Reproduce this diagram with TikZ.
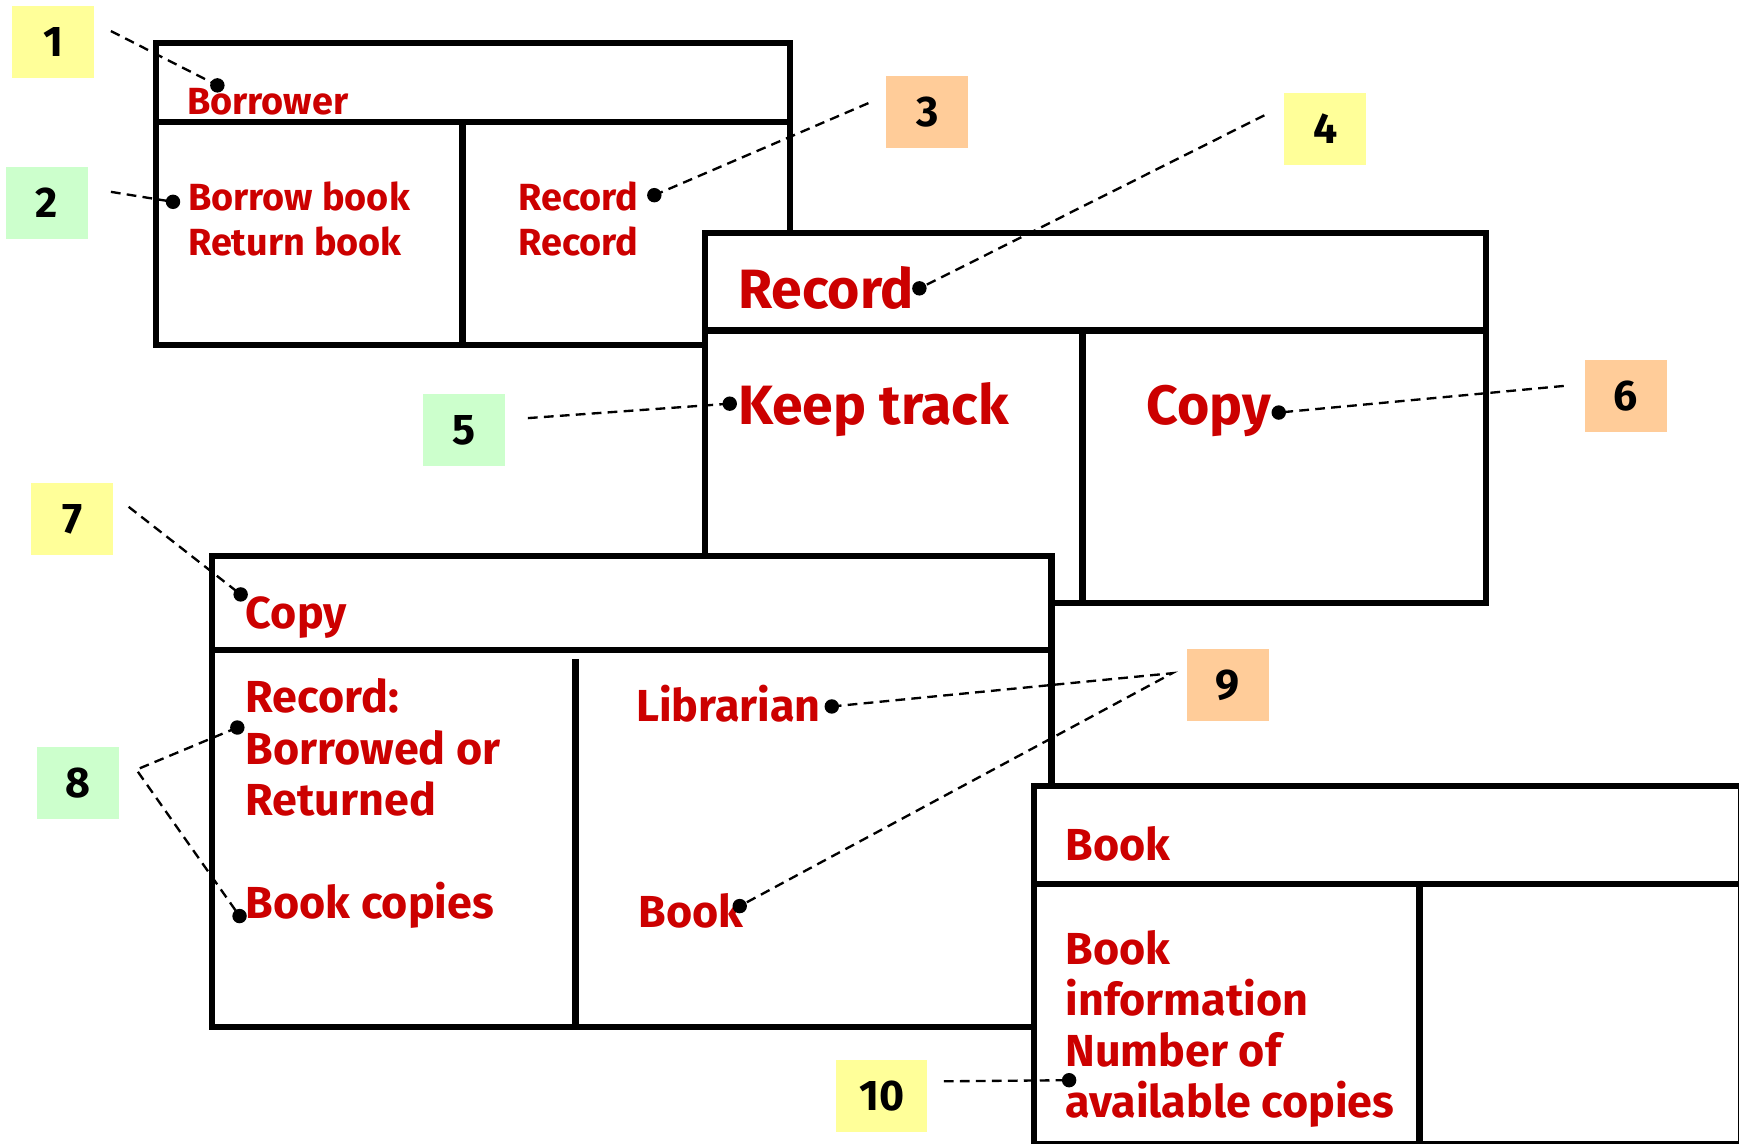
\documentclass[tikz,border=0pt]{standalone}
\usepackage{fontspec}
\setmainfont{Fira Sans}
\definecolor{redtxt}{RGB}{204,0,0}
\definecolor{notey}{RGB}{255,255,153}
\definecolor{noteg}{RGB}{204,255,204}
\definecolor{noteo}{RGB}{255,204,153}
\begin{document}
\begin{tikzpicture}[x=0.01cm,y=-0.01cm,
	card/.style={draw=black,line width=1.6pt,fill=white},
	rule/.style={line width=1.6pt},
	stxt/.style={anchor=base west,inner sep=0pt,text=redtxt,font=\bfseries\fontsize{9.7}{12}\selectfont},
	mtxt/.style={stxt,font=\bfseries\fontsize{11.5}{14}\selectfont},
	btxt/.style={stxt,font=\bfseries\fontsize{14.2}{17}\selectfont},
	dot/.style={circle,fill=black,inner sep=0pt,minimum size=0.13cm},
	note/.style={minimum width=0.74cm,minimum height=0.65cm,inner sep=0pt,font=\bfseries\fontsize{11}{13}\selectfont},
	leader/.style={dash pattern=on 2.5pt off 1.6pt,line width=0.6pt}]
			\useasboundingbox (0,0) rectangle (1568,1031);
			\draw[card] (141,39) rectangle (712,311);
			\draw[rule] (141,110)--(712,110) (417,110)--(417,311);
			\node[stxt] (borrower) at (168,103) {Borrower};
			\node[stxt] (borrowbk) at (169,190) {Borrow book};
			\node[stxt] (returnbk) at (169,230) {Return book};
			\node[stxt] (recA) at (467,190) {Record};
			\node[stxt] (recB) at (467,230) {Record};
			\draw[card] (636,210) rectangle (1340,544);
			\draw[rule] (636,298)--(1340,298) (976,298)--(976,544);
			\node[btxt] (record) at (665,278) {Record};
			\node[btxt] (keep) at (665,383) {Keep track};
			\node[btxt] (copyR) at (1033,383) {Copy};
			\draw[card] (191,501) rectangle (948,926);
			\draw[rule] (191,586)--(946,586) (519,594)--(519,926);
			\node[mtxt] (copy) at (221,567) {Copy};
			\node[mtxt] (recC) at (221,642) {Record:};
			\node[mtxt] (borrowed) at (221,689) {Borrowed or};
			\node[mtxt] (returned) at (221,735) {Returned};
			\node[mtxt] (bkcopies) at (221,828) {Book copies};
			\node[mtxt] (librarian) at (573,651) {Librarian};
			\node[mtxt] (bookC) at (575,836) {Book};
			\draw[card] (932,709) rectangle (1570,1032);
			\draw[rule] (932,797)--(1570,797) (1280,797)--(1280,1032);
			\node[mtxt] (book) at (960,776) {Book};
			\node[mtxt] (bookA) at (960,870) {Book};
			\node[mtxt] (info) at (960,916) {information};
			\node[mtxt] (number) at (960,962) {Number of};
			\node[mtxt] (avail) at (960,1008) {available copies};
			\coordinate (t1) at (100,28);
			\coordinate (t2) at (100,173);
			\coordinate (t3) at (783,93);
			\coordinate (t4) at (1140,104);
			\coordinate (t5) at (476,377);
			\coordinate (t6) at (1410,348);
			\coordinate (t7) at (116,457);
			\coordinate (t8) at (123,694);
			\coordinate (t9) at (1057,607);
			\coordinate (t10) at (851,975);
			\node[dot] (d1) at (196,77) {};
			\node[dot] (d2) at (156,182) {};
			\node[dot] (d3) at (590,176) {};
			\node[dot] (d4) at (829,260) {};
			\node[dot] (d5) at (658,364) {};
			\node[dot] (d6) at (1153,372) {};
			\node[dot] (d7) at (217,536) {};
			\node[dot] (d8a) at (214,656) {};
			\node[dot] (d8b) at (216,826) {};
			\node[dot] (d9a) at (750,637) {};
			\node[dot] (d9b) at (667,817) {};
			\node[dot] (d10) at (964,974) {};
			\draw[leader] (t1)--(d1.center) (t2)--(d2.center) (t3)--(d3.center)
			(t4)--(d4.center) (t5)--(d5.center) (t6)--(d6.center)
			(t7)--(d7.center) (d8a.center)--(t8)--(d8b.center)
			(d9a.center)--(t9)--(d9b.center) (t10)--(d10.center);
			\node[note,fill=notey] (n1) at (48,38) {1};
			\node[note,fill=noteg] (n2) at (42,183) {2};
			\node[note,fill=noteo] (n3) at (836,101) {3};
			\node[note,fill=notey] (n4) at (1195,116) {4};
			\node[note,fill=noteg] (n5) at (418,388) {5};
			\node[note,fill=noteo] (n6) at (1466,357) {6};
			\node[note,fill=notey] (n7) at (65,468) {7};
			\node[note,fill=noteg] (n8) at (70,706) {8};
			\node[note,fill=noteo] (n9) at (1107,618) {9};
			\node[note,fill=notey,minimum width=0.82cm] (n10) at (795,988) {10};
\end{tikzpicture}
\end{document}
